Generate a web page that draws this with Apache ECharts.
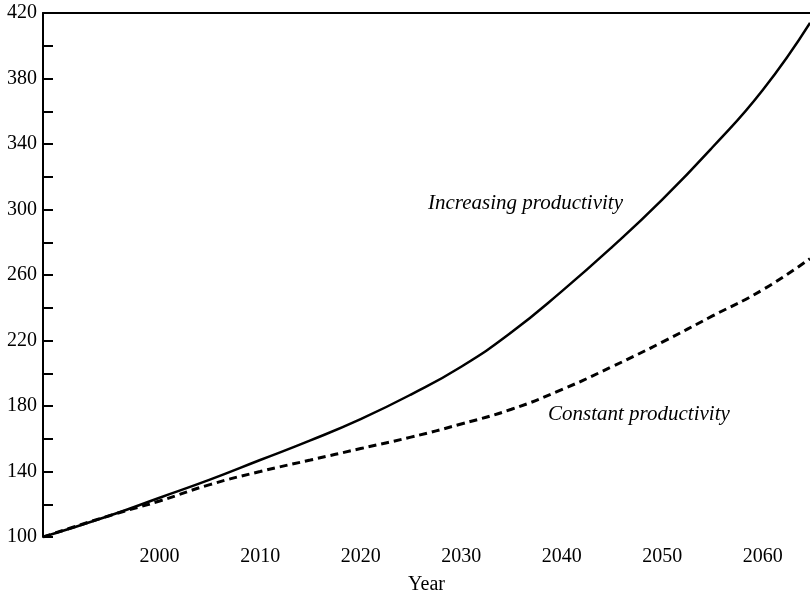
<!DOCTYPE html>
<html><head><meta charset="utf-8">
<script src="https://cdn.jsdelivr.net/npm/echarts@6/dist/echarts.min.js"></script>
<style>html,body{margin:0;padding:0;background:#fff}#c{width:810px;height:600px}</style>
</head><body><div id="c"></div>
<script>
var years = [1988.4, 1995, 2000, 2005, 2010, 2015, 2020, 2025, 2030, 2035, 2040, 2045, 2050, 2055, 2060, 2064.7];
var increasing = [100, 113, 124, 135, 147, 159, 172, 187, 204, 225, 250, 277, 306, 338, 373, 414];
var constant = [100, 113, 122, 132, 140, 147, 154, 161, 169, 178, 190, 204, 219, 235, 251, 270];
var xTicks = [2000, 2010, 2020, 2030, 2040, 2050, 2060];
var labels = ["Increasing productivity", "Constant productivity"];

var font = "'Liberation Serif','DejaVu Serif',serif";
var chart = echarts.init(document.getElementById('c'));
function pairs(v){ return years.map(function(y,i){ return [y, v[i]]; }); }
chart.setOption({
  animation: false,
  grid: {left: 43, right: 0, top: 13, bottom: 57},
  xAxis: [{
    type: 'value', min: 1988.4, max: 2064.7, position: 'bottom',
    name: 'Year', nameLocation: 'middle', nameGap: 38,
    nameTextStyle: {fontFamily: font, fontSize: 20, color: '#000'},
    axisLine: {show: false},
    axisTick: {show: false},
    splitLine: {show: false},
    axisLabel: {customValues: xTicks, formatter: function(v){ return String(v); }, fontFamily: font, fontSize: 20, color: '#000', margin: 10}
  }, {
    type: 'value', min: 1988.4, max: 2064.7, position: 'top',
    axisLine: {show: true, lineStyle: {color: '#000', width: 2}},
    axisTick: {show: false}, axisLabel: {show: false}, splitLine: {show: false}
  }],
  yAxis: {
    type: 'value', min: 100, max: 420, interval: 40,
    axisLine: {show: true, lineStyle: {color: '#000', width: 2}},
    axisTick: {show: true, inside: true, length: 10, lineStyle: {color: '#000', width: 2}},
    minorTick: {show: true, splitNumber: 2, length: 10, lineStyle: {color: '#000', width: 2}},
    splitLine: {show: false},
    axisLabel: {fontFamily: font, fontSize: 20, color: '#000', margin: 6}
  },
  series: [{
    type: 'line', data: pairs(increasing), smooth: true, symbol: 'none',
    lineStyle: {color: '#000', width: 2.5}
  }, {
    type: 'line', data: pairs(constant), smooth: true, symbol: 'none',
    lineStyle: {color: '#000', width: 3, type: [8, 5]}
  }],
  graphic: [{
    type: 'text', left: 428, top: 193,
    style: {text: labels[0], font: 'italic 21px ' + font, fill: '#000'}
  }, {
    type: 'text', left: 548, top: 404,
    style: {text: labels[1], font: 'italic 21px ' + font, fill: '#000'}
  }]
});
</script></body></html>
